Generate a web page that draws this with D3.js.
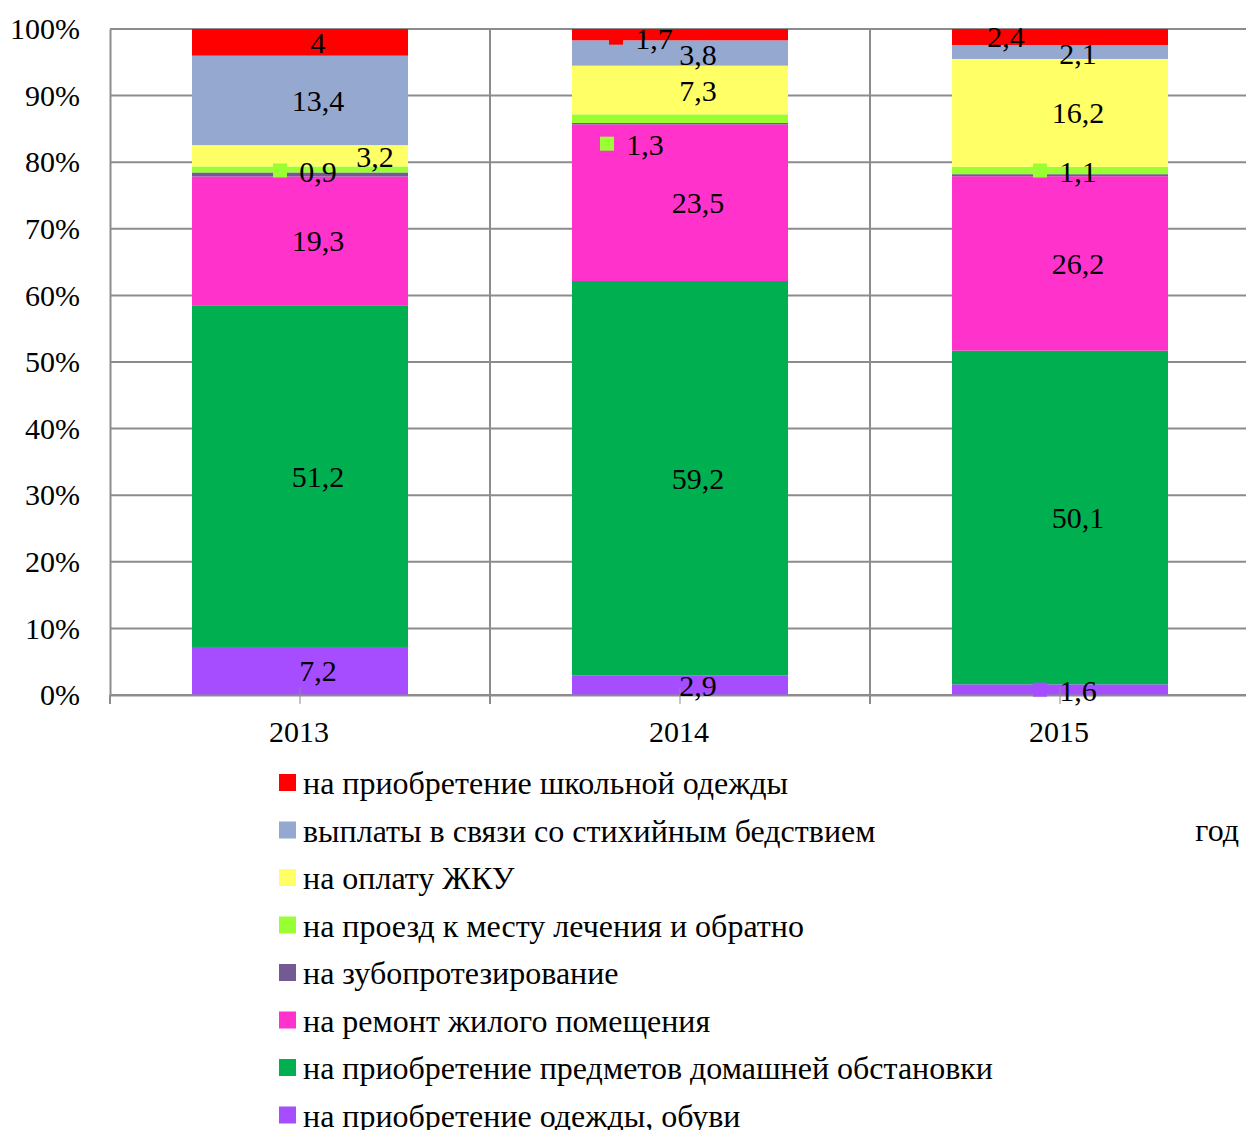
<!DOCTYPE html>
<html>
<head>
<meta charset="utf-8">
<script src="https://cdn.jsdelivr.net/npm/d3@7"></script>
<style>
  body { margin: 0; background: #fff; }
  text { font-family: "Liberation Serif", "Times New Roman", serif; fill: #000; }
</style>
</head>
<body>
<script>
// years on the x axis
var years = ["2013", "2014", "2015"];

// series, bottom of the stack first
var seriesNames = [
    "на приобретение одежды, обуви",
    "на приобретение предметов домашней обстановки",
    "на ремонт жилого помещения",
    "на зубопротезирование",
    "на проезд к месту лечения и обратно",
    "на оплату ЖКУ",
    "выплаты в связи со стихийным бедствием",
    "на приобретение школьной одежды"
];
var seriesColors = ["#a64dff", "#00b050", "#ff33cc", "#735a94", "#99ff33", "#ffff66", "#95a9d0", "#ff0000"];

// percent values per series, one per year
var clothes   = [7.2, 2.9, 1.6];
var furniture = [51.2, 59.2, 50.1];
var repair    = [19.3, 23.5, 26.2];
var dental    = [0.6, 0.2, 0.3];
var travel    = [0.9, 1.3, 1.1];
var utilities = [3.2, 7.3, 16.2];
var disaster  = [13.4, 3.8, 2.1];
var school    = [4, 1.7, 2.4];

var yTicks = [0, 10, 20, 30, 40, 50, 60, 70, 80, 90, 100];

var seriesValues = [clothes, furniture, repair, dental, travel, utilities, disaster, school];

// label tweaks (series index + year index)
var labelTweaks = {
    "3-0": { hide: true }, "3-1": { hide: true }, "3-2": { hide: true },
    "5-0": { dx: 57, dy: 1 },
    "4-0": { key: true, dy: 2 },
    "7-1": { dx: -44, dy: 4, key: true },
    "4-1": { dx: -53, dy: 26, key: true },
    "7-2": { dx: -72, dy: 0, key: true },
    "6-2": { dy: 2 },
    "4-2": { key: true, dy: 1 },
    "0-2": { key: true, dy: 1 },
    "6-1": { dy: 1 }
};

var width = 1246, height = 1130;
var margin = { left: 110, top: 29 };
var fontSize = "30px";

var svg = d3.select("body").append("svg")
    .attr("width", width)
    .attr("height", height);

var x = d3.scaleBand()
    .domain(years)
    .range([margin.left, margin.left + 380 * 3]);

var y = d3.scaleLinear()
    .domain([0, 100])
    .range([695, margin.top]);

// normalize to 100%
var rows = years.map(function (yr, j) {
    var row = { year: yr };
    var total = d3.sum(seriesValues, function (s) { return s[j]; });
    seriesNames.forEach(function (name, i) {
        row[i] = seriesValues[i][j] / total * 100;
    });
    return row;
});

var stacked = d3.stack().keys(d3.range(seriesNames.length))(rows);

// horizontal grid
svg.append("g")
    .selectAll("line")
    .data(yTicks)
    .enter()
    .append("line")
    .attr("x1", margin.left)
    .attr("x2", width)
    .attr("y1", function (d) { return y(d); })
    .attr("y2", function (d) { return y(d); })
    .attr("stroke", "#8c8c8c")
    .attr("stroke-width", 2);

// category separators
svg.append("g")
    .selectAll("line")
    .data(years.slice(1))
    .enter()
    .append("line")
    .attr("x1", function (d) { return x(d); })
    .attr("x2", function (d) { return x(d); })
    .attr("y1", y(100))
    .attr("y2", y(0) + 9)
    .attr("stroke", "#8c8c8c")
    .attr("stroke-width", 2);

var barW = 216;

svg.append("g")
    .selectAll("g")
    .data(stacked)
    .enter()
    .append("g")
    .attr("fill", function (d) { return seriesColors[d.key]; })
    .selectAll("rect")
    .data(function (d) { return d; })
    .enter()
    .append("rect")
    .attr("x", function (d) { return x(d.data.year) + x.bandwidth() / 2 - barW / 2; })
    .attr("width", barW)
    .attr("y", function (d) { return y(d[1]); })
    .attr("height", function (d) { return y(d[0]) - y(d[1]); });

// y axis
var gy = svg.append("g")
    .attr("transform", "translate(" + margin.left + ",0)")
    .call(d3.axisLeft(y)
        .tickValues(yTicks)
        .tickSize(0)
        .tickPadding(30)
        .tickFormat(function (d) { return d + "%"; }));
gy.select(".domain").attr("stroke", "#8c8c8c").attr("stroke-width", 2);
gy.selectAll("text").style("font-size", fontSize).attr("dy", "0.32em")
    .style("font-family", "'Liberation Serif', serif");

// x axis
var gx = svg.append("g")
    .attr("transform", "translate(0," + y(0) + ")")
    .call(d3.axisBottom(x).tickSize(0).tickPadding(26));
gx.select(".domain").attr("stroke", "#8c8c8c").attr("stroke-width", 2);
gx.selectAll("text").style("font-size", fontSize)
    .style("font-family", "'Liberation Serif', serif")
    .attr("dx", -1);
gx.append("line")
    .attr("x1", margin.left).attr("x2", margin.left)
    .attr("y1", 0).attr("y2", 9)
    .attr("stroke", "#8c8c8c").attr("stroke-width", 2);

// little leader marks under bar centers
svg.append("g")
    .selectAll("line")
    .data(years)
    .enter()
    .append("line")
    .attr("x1", function (d) { return x(d) + x.bandwidth() / 2; })
    .attr("x2", function (d) { return x(d) + x.bandwidth() / 2; })
    .attr("y1", y(0) - 8)
    .attr("y2", y(0) + 9)
    .attr("stroke", "#8c8c8c")
    .attr("stroke-width", 1);

// data labels
var labels = [];
stacked.forEach(function (layer) {
    layer.forEach(function (d, j) {
        var tw = labelTweaks[layer.key + "-" + j] || {};
        if (tw.hide) return;
        labels.push({
            text: String(seriesValues[layer.key][j]).replace(".", ","),
            cx: x(years[j]) + x.bandwidth() / 2 + 18 + (tw.dx || 0),
            cy: y((d[0] + d[1]) / 2) + (tw.dy || 0),
            key: tw.key,
            color: seriesColors[layer.key]
        });
    });
});

var lab = svg.append("g").selectAll("g")
    .data(labels)
    .enter()
    .append("g");

lab.filter(function (d) { return d.key; })
    .append("rect")
    .attr("x", function (d) { return d.cx - 38 - 7; })
    .attr("y", function (d) { return d.cy - 8; })
    .attr("width", 14)
    .attr("height", 14)
    .attr("fill", function (d) { return d.color; });

lab.append("text")
    .attr("x", function (d) { return d.cx; })
    .attr("y", function (d) { return d.cy; })
    .attr("text-anchor", "middle")
    .attr("dy", "0.35em")
    .style("font-size", fontSize)
    .text(function (d) { return d.text; });

// legend, top series first
var legendOrder = d3.range(seriesNames.length).reverse();
var leg = svg.append("g")
    .selectAll("g")
    .data(legendOrder)
    .enter()
    .append("g")
    .attr("transform", function (d, i) { return "translate(279," + (783 + i * 47.5) + ")"; });

leg.append("rect")
    .attr("x", 0)
    .attr("y", -9)
    .attr("width", 17)
    .attr("height", 17)
    .attr("fill", function (d) { return seriesColors[d]; });

leg.append("text")
    .attr("x", 24)
    .attr("y", 0)
    .attr("dy", "0.35em")
    .style("font-size", "32px")
    .text(function (d) { return seriesNames[d]; });

svg.append("text")
    .attr("x", 1239)
    .attr("y", 830)
    .attr("dy", "0.35em")
    .attr("text-anchor", "end")
    .style("font-size", "32px")
    .text("год");
</script>
</body>
</html>
